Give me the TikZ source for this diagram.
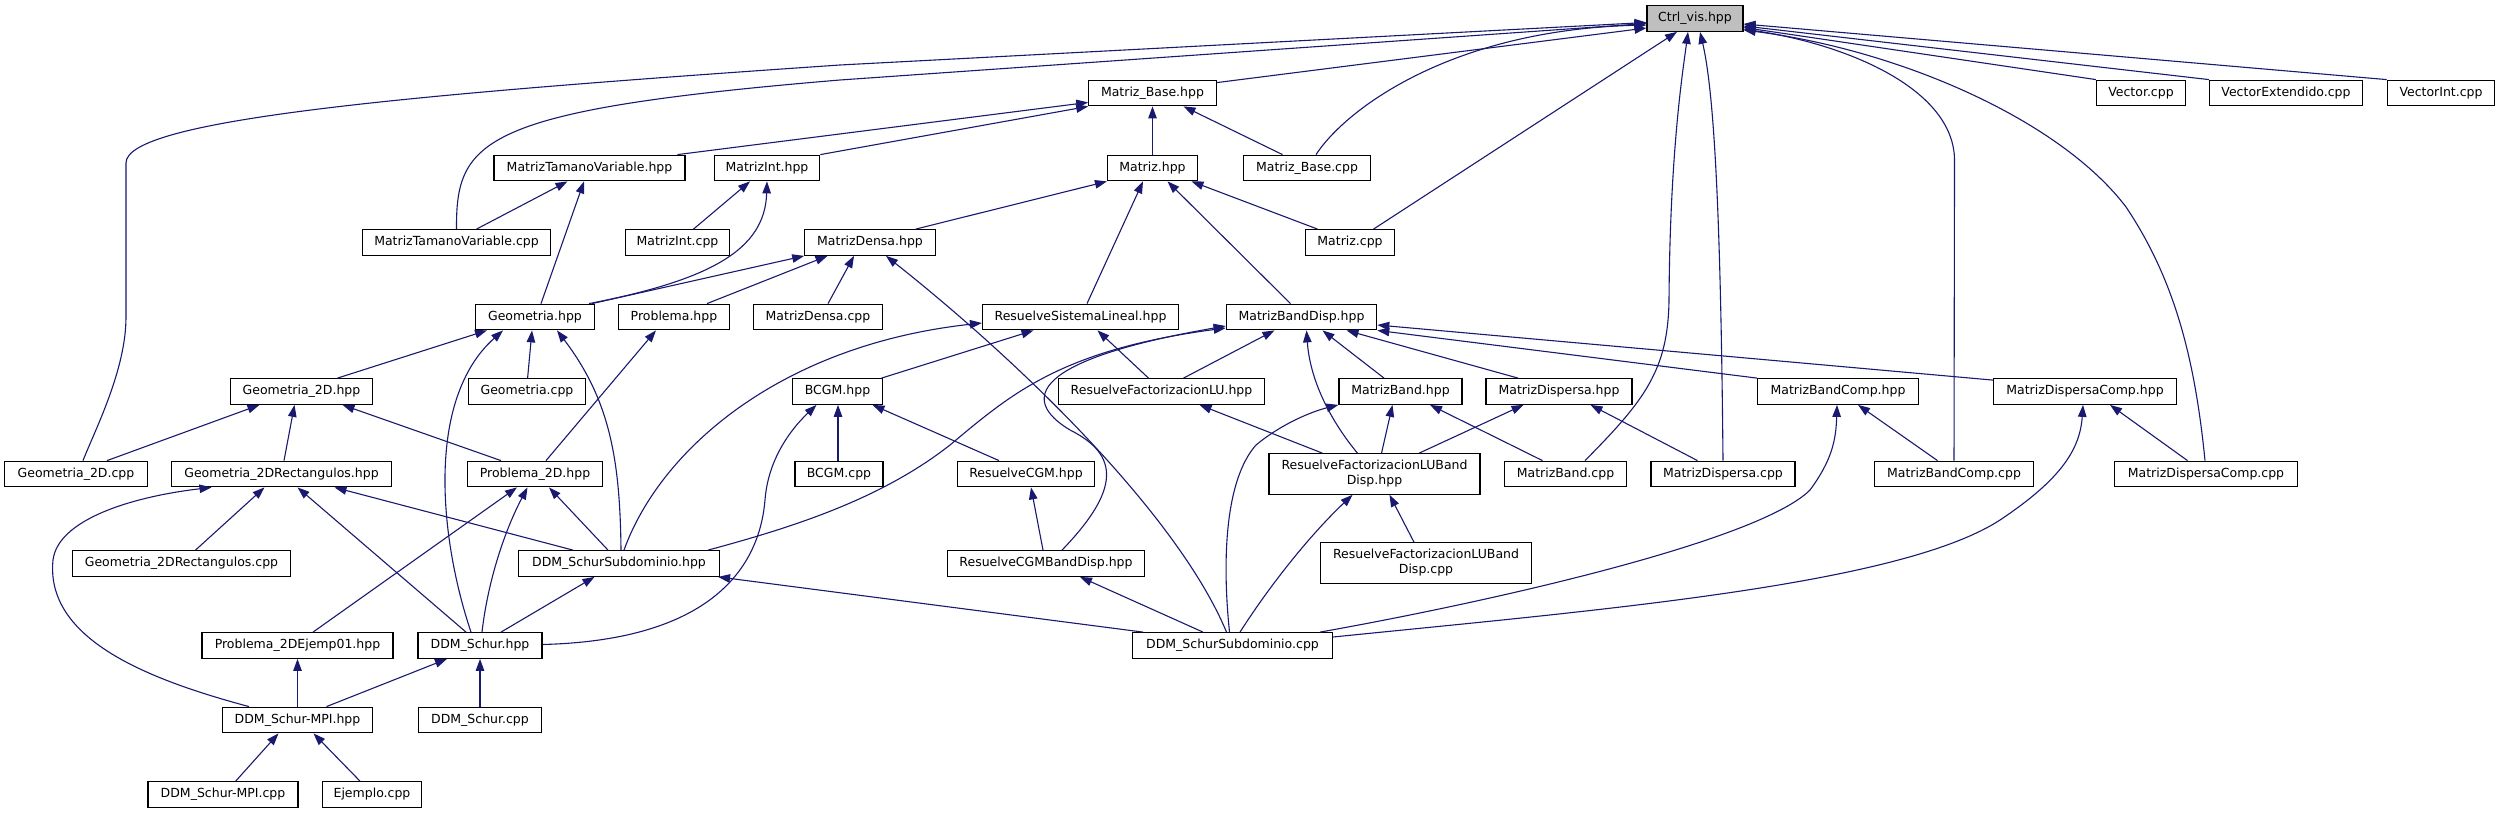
\documentclass[tikz,border=0pt]{standalone}
\usepackage{fontspec}
\setmainfont{DejaVu Sans}
\usetikzlibrary{arrows.meta}
\definecolor{edgeblue}{HTML}{191970}
\definecolor{rootgray}{HTML}{BFBFBF}
\begin{document}
\begin{tikzpicture}[x=1pt,y=-1pt,
  box/.style={draw=black, line width=1.1pt, fill=white, inner sep=0pt, minimum height=25.7pt, font=\fontsize{12.5}{15}\selectfont, align=center},
  box2/.style={box, minimum height=40.5pt},
  edge/.style={draw=edgeblue, line width=1.1pt, -{Triangle[length=12pt,width=8.5pt]}}]
\useasboundingbox (0,0) rectangle (2499,813);
\fill[white] (0,0) rectangle (2499,813);
% row 1
\node[box, fill=rootgray, minimum width=96pt] (ctrl) at (1695,18.5) {Ctrl\_vis.hpp};
% row 2
\node[box, minimum width=127.5pt] (mbase) at (1152.5,93) {Matriz\_Base.hpp};
\node[box, minimum width=89pt] (vec) at (2141,93) {Vector.cpp};
\node[box, minimum width=153pt] (vext) at (2286,93) {VectorExtendido.cpp};
\node[box, minimum width=107.5pt] (vint) at (2441,93) {VectorInt.cpp};
% row 3
\node[box, minimum width=191pt] (mtvh) at (589.5,168) {MatrizTamanoVariable.hpp};
\node[box, minimum width=105.5pt] (mih) at (767,168) {MatrizInt.hpp};
\node[box, minimum width=90pt] (mh) at (1152.5,168) {Matriz.hpp};
\node[box, minimum width=127pt] (mbc) at (1307,168) {Matriz\_Base.cpp};
% row 4
\node[box, minimum width=188.5pt] (mtvc) at (456.5,242.5) {MatrizTamanoVariable.cpp};
\node[box, minimum width=104pt] (mic) at (677.5,242.5) {MatrizInt.cpp};
\node[box, minimum width=130.5pt] (mdh) at (870,242.5) {MatrizDensa.hpp};
\node[box, minimum width=88.5pt] (mc) at (1350,242.5) {Matriz.cpp};
% row 5
\node[box, minimum width=119pt] (geoh) at (535,317) {Geometria.hpp};
\node[box, minimum width=110.5pt] (probh) at (674,317) {Problema.hpp};
\node[box, minimum width=129.5pt] (mdc) at (818,317) {MatrizDensa.cpp};
\node[box, minimum width=196pt] (rslh) at (1080.5,317) {ResuelveSistemaLineal.hpp};
\node[box, minimum width=150.5pt] (mbdh) at (1301.5,317) {MatrizBandDisp.hpp};
% row 6
\node[box, minimum width=142.5pt] (g2dh) at (301.5,391.5) {Geometria\_2D.hpp};
\node[box, minimum width=117pt] (geoc) at (527,391.5) {Geometria.cpp};
\node[box, minimum width=90pt] (bcgmh) at (837.5,391.5) {BCGM.hpp};
\node[box, minimum width=205.5pt] (rfluh) at (1161.5,391.5) {ResuelveFactorizacionLU.hpp};
\node[box, minimum width=123pt] (mbh) at (1400.5,391.5) {MatrizBand.hpp};
\node[box, minimum width=146pt] (mdih) at (1559,391.5) {MatrizDispersa.hpp};
\node[box, minimum width=161pt] (mbch) at (1838,391.5) {MatrizBandComp.hpp};
\node[box, minimum width=183pt] (mdich) at (2085,391.5) {MatrizDispersaComp.hpp};
% row 7
\node[box, minimum width=142.5pt] (g2dc) at (76,474) {Geometria\_2D.cpp};
\node[box, minimum width=220pt] (g2drh) at (281.5,474) {Geometria\_2DRectangulos.hpp};
\node[box, minimum width=135.5pt] (p2dh) at (535,474) {Problema\_2D.hpp};
\node[box, minimum width=88pt] (bcgmc) at (839,474) {BCGM.cpp};
\node[box, minimum width=136.5pt] (rcgmh) at (1026,474) {ResuelveCGM.hpp};
\node[box2, minimum width=211pt] (rflubdh) at (1374.5,474) {ResuelveFactorizacionLUBand\\Disp.hpp};
\node[box, minimum width=121.5pt] (mbcpp) at (1565.5,474) {MatrizBand.cpp};
\node[box, minimum width=144pt] (mdicpp) at (1723,474) {MatrizDispersa.cpp};
\node[box, minimum width=158.5pt] (mbccpp) at (1954,474) {MatrizBandComp.cpp};
\node[box, minimum width=182.5pt] (mdiccpp) at (2206,474) {MatrizDispersaComp.cpp};
% row 8
\node[box, minimum width=218.5pt] (g2drc) at (181.5,563.5) {Geometria\_2DRectangulos.cpp};
\node[box, minimum width=201pt] (ddmssh) at (619,563.5) {DDM\_SchurSubdominio.hpp};
\node[box, minimum width=197pt] (rcgmbdh) at (1046,563.5) {ResuelveCGMBandDisp.hpp};
\node[box2, minimum width=210.5pt] (rflubdc) at (1426,563) {ResuelveFactorizacionLUBand\\Disp.cpp};
% row 9
\node[box, minimum width=191pt] (p2dej) at (297.5,645.5) {Problema\_2DEjemp01.hpp};
\node[box, minimum width=124pt] (ddmsh) at (480,645.5) {DDM\_Schur.hpp};
\node[box, minimum width=200pt] (ddmssc) at (1232.5,645.5) {DDM\_SchurSubdominio.cpp};
% row 10
\node[box, minimum width=150.5pt] (ddmmpih) at (297.5,720) {DDM\_Schur-MPI.hpp};
\node[box, minimum width=122.5pt] (ddmsc) at (480,720) {DDM\_Schur.cpp};
% row 11
\node[box, minimum width=150pt] (ddmmpic) at (223,794.5) {DDM\_Schur-MPI.cpp};
\node[box, minimum width=99.5pt] (ejc) at (372,794.5) {Ejemplo.cpp};

% edges to Ctrl_vis
\draw[edge] ([yshift=-3]mbase.north east) -- ([yshift=-9.5]ctrl.west);
\draw[edge] ([xshift=7]g2dc.north) .. controls (95,430) and (126,370) .. (126,317) -- (126,163) .. controls (126,120) and (400,95) .. (840,65) -- ([yshift=-4]ctrl.west);
\draw[edge] (mtvc.north) .. controls (456,140) and (480,110) .. (840,80) -- ([yshift=-5]ctrl.west);
\draw[edge] ([xshift=9]mbc.north) .. controls (1345,110) and (1450,30) .. ([yshift=-6.5]ctrl.west);
\draw[edge] ([xshift=23.5]mc.north) -- ([xshift=-18]ctrl.south);
\draw[edge] ([xshift=19.5]mbcpp.north) .. controls (1645,400) and (1668,370) .. (1669,300) .. controls (1670,150) and (1683,70) .. ([xshift=-7]ctrl.south);
\draw[edge] (mdicpp.north) .. controls (1721,250) and (1716,100) .. ([xshift=5]ctrl.south);
\draw[edge] (mbccpp.north) -- (1954.5,160) .. controls (1954,90) and (1850,45) .. ([yshift=-10.5]ctrl.east);
\draw[edge] ([xshift=-1]mdiccpp.north) .. controls (2195,360) and (2175,280) .. (2126,207) .. controls (2060,120) and (1900,50) .. ([yshift=-11.5]ctrl.east);
\draw[edge] (vec.north west) -- ([yshift=-9]ctrl.east);
\draw[edge] (vext.north west) -- ([yshift=-7.5]ctrl.east);
\draw[edge] (vint.north west) -- ([yshift=-5.5]ctrl.east);
% Matriz_Base.hpp
\draw[edge] ([xshift=88]mtvh.north) -- ([yshift=4]mbase.south west);
\draw[edge] (mih.north east) -- (mbase.south west);
\draw[edge] (mh.north) -- (mbase.south);
\draw[edge] ([xshift=-24.5]mbc.north) -- ([xshift=31]mbase.south);
% Matriz.hpp
\draw[edge] ([xshift=45.7]mdh.north) -- (mh.south west);
\draw[edge] ([xshift=6.5]rslh.north) -- ([xshift=-9.5]mh.south);
\draw[edge] ([xshift=-11]mbdh.north) -- ([xshift=15]mh.south);
\draw[edge] ([xshift=-32.5]mc.north) -- ([xshift=39]mh.south);
% MatrizTamanoVariable.hpp, MatrizInt.hpp
\draw[edge] ([xshift=20]mtvc.north) -- ([xshift=-22]mtvh.south);
\draw[edge] ([xshift=6]geoh.north) -- ([xshift=-5.5]mtvh.south);
\draw[edge] ([xshift=16]mic.north) -- ([xshift=-17]mih.south);
\draw[edge] ([xshift=54]geoh.north) .. controls (710,280) and (765,250) .. (mih.south);
% MatrizDensa.hpp
\draw[edge] ([xshift=57]geoh.north) -- (mdh.south west);
\draw[edge] ([xshift=33]probh.north) -- ([xshift=-42.5]mdh.south);
\draw[edge] ([xshift=10]mdc.north) -- ([xshift=-16]mdh.south);
\draw[edge] ([xshift=-6]ddmssc.north) .. controls (1180,520) and (1030,370) .. ([xshift=16]mdh.south);
% Problema.hpp
\draw[edge] ([xshift=11]p2dh.north) -- ([xshift=-18]probh.south);
% Geometria.hpp
\draw[edge] ([xshift=36]g2dh.north) -- ([xshift=-48]geoh.south);
\draw[edge] ([xshift=-9]ddmsh.north) .. controls (440,540) and (425,400) .. ([xshift=-32]geoh.south);
\draw[edge] ([xshift=0.6]geoc.north) -- ([xshift=-3]geoh.south);
\draw[edge] ([xshift=2]ddmssh.north) .. controls (620,460) and (610,400) .. ([xshift=22]geoh.south);
% Geometria_2D.hpp
\draw[edge] ([xshift=31]g2dc.north) -- ([xshift=-42]g2dh.south);
\draw[edge] ([xshift=2.5]g2drh.north) -- ([xshift=-7]g2dh.south);
\draw[edge] ([xshift=-34]p2dh.north) -- ([xshift=41]g2dh.south);
% Geometria_2DRectangulos.hpp
\draw[edge] ([xshift=-48.5]ddmmpih.north) .. controls (150,680) and (45,640) .. (53,560) .. controls (58,520) and (130,497) .. ([xshift=-70]g2drh.south);
\draw[edge] ([xshift=14]g2drc.north) -- ([xshift=-17]g2drh.south);
\draw[edge] ([xshift=-14]ddmsh.north) -- ([xshift=16]g2drh.south);
\draw[edge] ([xshift=-46]ddmssh.north) -- ([xshift=53]g2drh.south);
% Problema_2D.hpp
\draw[edge] ([xshift=15.5]p2dej.north) -- ([xshift=-18]p2dh.south);
\draw[edge] ([xshift=2]ddmsh.north) .. controls (488,580) and (505,530) .. ([xshift=-7.5]p2dh.south);
\draw[edge] ([xshift=-11]ddmssh.north) -- ([xshift=14]p2dh.south);
% DDM_SchurSubdominio.hpp
\draw[edge] ([xshift=21]ddmsh.north) -- ([xshift=-24.5]ddmssh.south);
\draw[edge] ([xshift=-89.5]ddmssc.north) -- ([xshift=-2]ddmssh.south east);
% ResuelveSistemaLineal.hpp
\draw[edge] ([xshift=5]ddmssh.north) .. controls (660,450) and (780,345) .. ([yshift=-6]rslh.west);
\draw[edge] ([xshift=-1.5]bcgmh.north east) -- ([xshift=-47]rslh.south);
\draw[edge] ([xshift=-13]rfluh.north) -- ([xshift=17]rslh.south);
% MatrizBandDisp.hpp
\draw[edge] ([xshift=-12]ddmssh.north east) .. controls (790,528) and (880,500) .. (950,445) .. controls (1010,395) and (1060,350) .. ([yshift=-11]mbdh.west);
\draw[edge] ([xshift=16]rcgmbdh.north) .. controls (1120,490) and (1120,455) .. (1070,430) .. controls (1020,400) and (1030,360) .. ([yshift=-9]mbdh.west);
\draw[edge] ([xshift=22]rfluh.north) -- ([xshift=-27]mbdh.south);
\draw[edge] ([xshift=-17]rflubdh.north) .. controls (1330,420) and (1310,380) .. ([xshift=5]mbdh.south);
\draw[edge] ([xshift=-16.5]mbh.north) -- ([xshift=21]mbdh.south);
\draw[edge] ([xshift=-41]mdih.north) -- ([xshift=45]mbdh.south);
\draw[edge] (mbch.north west) -- (mbdh.south east);
\draw[edge] ([yshift=-2]mdich.north west) -- ([yshift=-8]mbdh.east);
% BCGM.hpp
\draw[edge] ([xshift=-1]bcgmc.north) -- ([xshift=0.5]bcgmh.south);
\draw[edge] ([xshift=-27]rcgmh.north) -- ([xshift=35]bcgmh.south);
\draw[edge] ([yshift=1]ddmsh.east) .. controls (720,640) and (760,560) .. (765,500) .. controls (768,460) and (790,430) .. ([xshift=-21]bcgmh.south);
% ResuelveCGM.hpp
\draw[edge] ([xshift=-3]rcgmbdh.north) -- ([xshift=5]rcgmh.south);
% ResuelveFactorizacionLU.hpp
\draw[edge] ([xshift=-52]rflubdh.north) -- ([xshift=38]rfluh.south);
% MatrizBand.hpp
\draw[edge] ([xshift=7]rflubdh.north) -- ([xshift=-8]mbh.south);
\draw[edge] ([xshift=-23]mbcpp.north) -- ([xshift=29.5]mbh.south);
\draw[edge] ([xshift=-3]ddmssc.north) .. controls (1222,560) and (1225,480) .. (1256,445) .. controls (1280,425) and (1310,412) .. (mbh.south west);
% MatrizDispersa.hpp
\draw[edge] ([xshift=44.5]rflubdh.north) -- ([xshift=-35.5]mdih.south);
\draw[edge] ([xshift=-25.5]mdicpp.north) -- ([xshift=31.5]mdih.south);
% ResuelveFactorizacionLUBandDisp.hpp
\draw[edge] ([xshift=-12]rflubdc.north) -- ([xshift=15]rflubdh.south);
\draw[edge] ([xshift=7.5]ddmssc.north) .. controls (1270,585) and (1310,535) .. ([xshift=-22]rflubdh.south);
% ResuelveCGMBandDisp.hpp
\draw[edge] ([xshift=-29.5]ddmssc.north) -- ([xshift=34]rcgmbdh.south);
% MatrizBandComp.hpp
\draw[edge] ([xshift=-16.5]mbccpp.north) -- ([xshift=20]mbch.south);
\draw[edge] ([xshift=87.5]ddmssc.north) .. controls (1500,600) and (1760,540) .. (1810,490) .. controls (1832,460) and (1836,440) .. ([xshift=-1]mbch.south);
% MatrizDispersaComp.hpp
\draw[edge] ([xshift=-18.5]mdiccpp.north) -- ([xshift=25]mdich.south);
\draw[edge] ([yshift=8.5]ddmssc.east) .. controls (1600,610) and (1900,585) .. (2000,520) .. controls (2060,480) and (2080,450) .. ([xshift=-2]mdich.south);
% Problema_2DEjemp01.hpp, DDM_Schur.hpp, DDM_Schur-MPI.hpp
\draw[edge] (ddmmpih.north) -- (p2dej.south);
\draw[edge] ([xshift=29]ddmmpih.north) -- ([xshift=-33]ddmsh.south);
\draw[edge] (ddmsc.north) -- (ddmsh.south);
\draw[edge] ([xshift=12.7]ddmmpic.north) -- ([xshift=-19]ddmmpih.south);
\draw[edge] ([xshift=-12]ejc.north) -- ([xshift=16]ddmmpih.south);
\end{tikzpicture}
\end{document}
